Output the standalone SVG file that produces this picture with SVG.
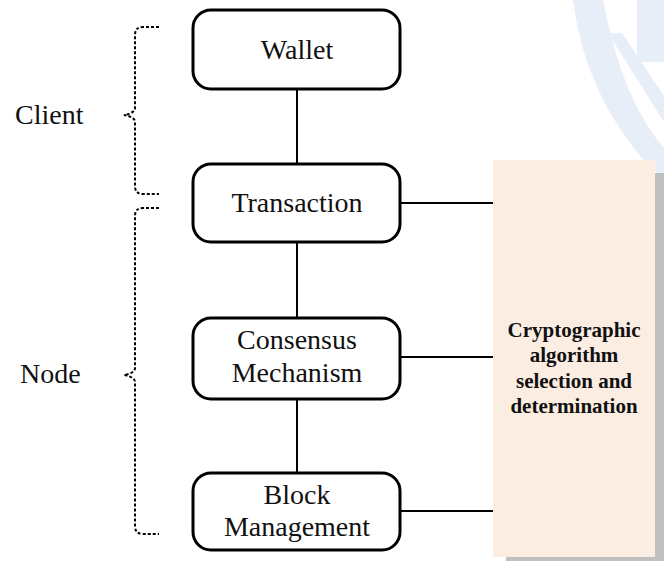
<svg xmlns="http://www.w3.org/2000/svg" width="664" height="561" viewBox="0 0 664 561">
  <style>
    .box { fill: #ffffff; stroke: #000000; stroke-width: 3; }
    .lbl { font-family: "Liberation Serif", "Times New Roman", serif; font-size: 28px; fill: #111111; text-anchor: middle; }
    .side { font-family: "Liberation Serif", "Times New Roman", serif; font-size: 28px; fill: #111111; }
    .bold { font-family: "Liberation Serif", "Times New Roman", serif; font-size: 21px; font-weight: bold; fill: #111111; text-anchor: middle; }
    .wire { stroke: #000000; stroke-width: 2; fill: none; }
    .brace { stroke: #000000; stroke-width: 2; fill: none; stroke-dasharray: 3 2; }
    .mark { fill: #e8eef8; }
  </style>

  <!-- faint background emblem, top right -->
  <g id="emblem">
    <path class="mark" d="M573,0 Q585,95 648,165 L664,178 L664,148 Q622,100 603,0 Z"/>
    <rect class="mark" x="637" y="0" width="27" height="62"/>
    <path class="mark" d="M608,33 L622,33 L664,96 L664,122 Z"/>
  </g>

  <!-- connectors -->
  <g id="connectors">
    <line class="wire" x1="297" y1="89" x2="297" y2="164"/>
    <line class="wire" x1="297" y1="242" x2="297" y2="318"/>
    <line class="wire" x1="297" y1="399" x2="297" y2="473"/>
    <line class="wire" x1="400" y1="203" x2="493" y2="203"/>
    <line class="wire" x1="400" y1="357" x2="493" y2="357"/>
    <line class="wire" x1="400" y1="511" x2="493" y2="511"/>
  </g>

  <!-- group braces -->
  <g id="client-group">
    <path class="brace" d="M159,27 L143,27 Q135,27 135,35 L135,108 Q135,113 124,115 Q135,117 135,122 L135,186 Q135,194 143,194 L159,194"/>
    <text class="side" x="15" y="124">Client</text>
  </g>
  <g id="node-group">
    <path class="brace" d="M159,208 L143,208 Q135,208 135,216 L135,368 Q135,373 124,375 Q135,377 135,382 L135,526 Q135,534 143,534 L159,534"/>
    <text class="side" x="20" y="383">Node</text>
  </g>

  <g id="wallet">
    <rect class="box" x="193" y="10" width="207" height="79" rx="18"/>
    <text class="lbl" x="297" y="59">Wallet</text>
  </g>

  <g id="transaction">
    <rect class="box" x="193" y="164" width="207" height="78" rx="18"/>
    <text class="lbl" x="297" y="212">Transaction</text>
  </g>

  <g id="consensus">
    <rect class="box" x="193" y="318" width="207" height="81" rx="18"/>
    <text class="lbl" x="297" y="349">Consensus</text>
    <text class="lbl" x="297" y="382">Mechanism</text>
  </g>

  <g id="block">
    <rect class="box" x="193" y="473" width="207" height="77" rx="18"/>
    <text class="lbl" x="297" y="504">Block</text>
    <text class="lbl" x="297" y="536">Management</text>
  </g>

  <g id="crypto">
    <rect x="506" y="173" width="158" height="388" fill="#c0c0c0"/>
    <rect x="493" y="160" width="162" height="397" fill="#fcede3"/>
    <text class="bold" x="574" y="337">Cryptographic</text>
    <text class="bold" x="574" y="362">algorithm</text>
    <text class="bold" x="574" y="388">selection and</text>
    <text class="bold" x="574" y="413">determination</text>
  </g>
</svg>
